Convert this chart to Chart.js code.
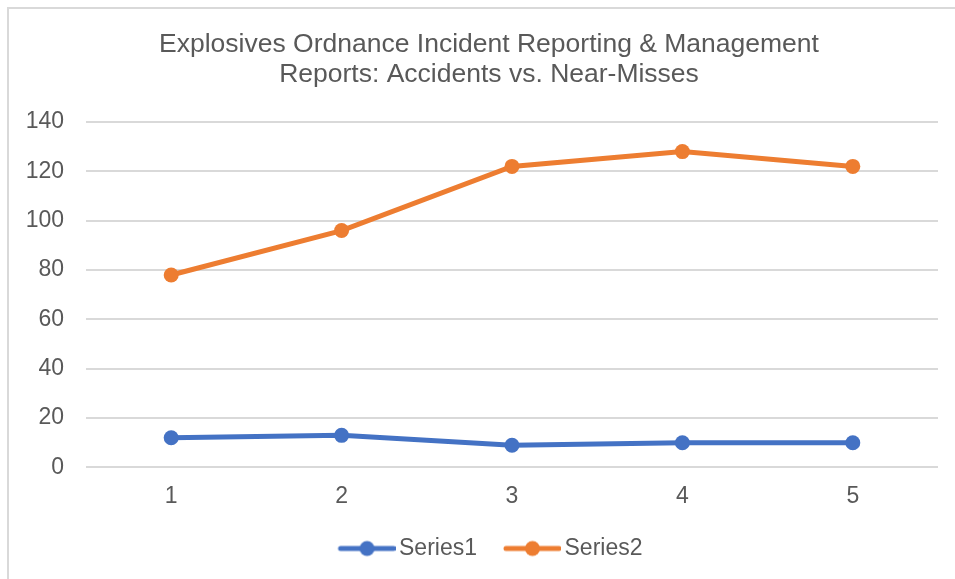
<!DOCTYPE html>
<html>
<head>
<meta charset="utf-8">
<script src="https://cdn.jsdelivr.net/npm/chart.js@4.4.1/dist/chart.umd.min.js"></script>
<style>
  html, body { margin: 0; padding: 0; background: #fff; overflow: hidden; }
  #wrap { position: relative; width: 955px; height: 579px; overflow: hidden; }
  #frame { position: absolute; left: 7px; top: 7px; width: 1000px; height: 600px;
           border-top: 2px solid #d9d9d9; border-left: 2px solid #d9d9d9; }
  #chart { position: absolute; left: 0; top: 0; }
</style>
</head>
<body>
<div id="wrap">
  <div id="frame"></div>
  <canvas id="chart" width="978" height="579"></canvas>
</div>
<script>
// Daten
const kategorien = ['1', '2', '3', '4', '5'];
const series1 = [12, 13, 9, 10, 10];
const series2 = [78, 96, 122, 128, 122];
const yTicks = [0, 20, 40, 60, 80, 100, 120, 140];

const titel = ['Explosives Ordnance Incident Reporting & Management', 'Reports: Accidents vs. Near-Misses'];
const blau = '#4472C4';
const orange = '#ED7D31';
const textFarbe = '#595959';
const schrift = '"Liberation Sans", Arial, sans-serif';

// Legenden-Symbol: Linie mit Punkt (links transparenter Rand als Abstand)
function legendenSymbol(farbe) {
  const c = document.createElement('canvas');
  c.width = 80;
  c.height = 18;
  const ctx = c.getContext('2d');
  ctx.strokeStyle = farbe;
  ctx.lineWidth = 5;
  ctx.lineCap = 'round';
  ctx.beginPath();
  ctx.moveTo(25, 9);
  ctx.lineTo(78, 9);
  ctx.stroke();
  ctx.fillStyle = farbe;
  ctx.beginPath();
  ctx.arc(51.5, 9, 7.5, 0, Math.PI * 2);
  ctx.fill();
  return c;
}

const daten = {
  labels: kategorien,
  datasets: [
    { label: 'Series1', data: series1, farbe: blau },
    { label: 'Series2', data: series2, farbe: orange }
  ].map(ds => ({
    label: ds.label,
    data: ds.data,
    borderColor: ds.farbe,
    backgroundColor: ds.farbe,
    borderWidth: 5,
    pointRadius: 7.5,
    pointHoverRadius: 7.5,
    pointBorderWidth: 0,
    pointStyle: 'circle',
    symbol: legendenSymbol(ds.farbe),
    tension: 0
  }))
};

// Legende etwas nach links schieben (Chart.js zentriert inkl. Padding)
const legendeVerschieben = {
  id: 'legendeVerschieben',
  afterLayout(chart) {
    chart.legend.left -= 6;
    chart.legend.right -= 6;
  }
};

new Chart(document.getElementById('chart'), {
  type: 'line',
  data: daten,
  plugins: [legendeVerschieben],
  options: {
    responsive: false,
    animation: false,
    devicePixelRatio: 1,
    layout: { padding: { left: 0, right: 0, top: 0, bottom: 9 } },
    plugins: {
      title: {
        display: true,
        text: titel,
        color: textFarbe,
        font: { family: schrift, size: 26.5, weight: 'normal', lineHeight: 1.132 },
        padding: { top: 30, bottom: 32 }
      },
      legend: {
        position: 'bottom',
        labels: {
          color: textFarbe,
          font: { family: schrift, size: 23 },
          usePointStyle: true,
          pointStyleWidth: 64,
          boxHeight: 18,
          padding: 12,
          generateLabels: chart => chart.data.datasets.map((ds, i) => ({
            text: ds.label,
            pointStyle: ds.symbol,
            fillStyle: ds.borderColor,
            strokeStyle: ds.borderColor,
            lineWidth: 0,
            fontColor: textFarbe,
            hidden: false,
            datasetIndex: i
          }))
        }
      },
      tooltip: { enabled: false }
    },
    scales: {
      x: {
        offset: true,
        grid: { display: false, drawTicks: false },
        border: { display: false },
        ticks: { color: textFarbe, font: { family: schrift, size: 23 }, padding: 15 }
      },
      y: {
        min: 0,
        max: 140,
        afterFit: s => { s.width = 86; },
        afterBuildTicks: s => { s.ticks = yTicks.map(v => ({ value: v })); },
        grid: { color: '#d9d9d9', lineWidth: 2, drawTicks: false },
        border: { display: false },
        ticks: { color: textFarbe, font: { family: schrift, size: 23 }, padding: 22 }
      },
      // leere rechte Achse, damit Titel und Legende wie im Original sitzen
      rand: {
        type: 'linear',
        position: 'right',
        afterFit: s => { s.width = 40; },
        grid: { display: false, drawTicks: false },
        border: { display: false },
        ticks: { display: false }
      }
    }
  }
});
</script>
</body>
</html>
